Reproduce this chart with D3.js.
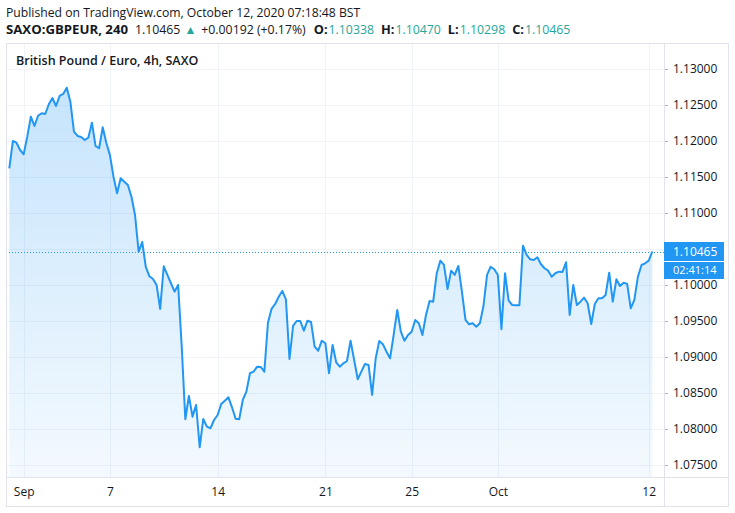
<!DOCTYPE html>
<html>
<head>
<meta charset="utf-8">
<script src="https://cdn.jsdelivr.net/npm/d3@7"></script>
<style>
  body { margin: 0; background: #fff; }
  svg { display: block; font-family: "Open Sans", "Noto Sans", sans-serif; }
</style>
</head>
<body>
<svg id="chart" width="735" height="513"></svg>
<script>
// GBPEUR 4h closes, Aug 31 late -> Oct 12 morning (one value per bar)
var closes = [
  1.11621, 1.12000, 1.11976, 1.11875, 1.11815, 1.12060, 1.12338, 1.12208, 1.12351, 1.12385,
  1.12375, 1.12510, 1.12597, 1.12486, 1.12625, 1.12653, 1.12740, 1.12546, 1.12129, 1.12070,
  1.12056, 1.12014, 1.12046, 1.12254, 1.11931, 1.11899, 1.12190, 1.11976, 1.11806, 1.11504,
  1.11274, 1.11482, 1.11435, 1.11389, 1.11226, 1.10972, 1.10463, 1.10597, 1.10250, 1.10121,
  1.10083, 1.10000, 1.09667, 1.10260, 1.10139, 1.10024, 1.09907, 1.10000, 1.09143, 1.08135,
  1.08458, 1.08171, 1.08333, 1.07746, 1.08139, 1.08032, 1.08010, 1.08125, 1.08194, 1.08347,
  1.08393, 1.08440, 1.08301, 1.08143, 1.08135, 1.08403, 1.08518, 1.08774, 1.08796, 1.08865,
  1.08861, 1.08796, 1.09476, 1.09667, 1.09736, 1.09837, 1.09917, 1.09801, 1.08972, 1.09431,
  1.09500, 1.09500, 1.09365, 1.09504, 1.09486, 1.09143, 1.09087, 1.09226, 1.09190, 1.08774,
  1.09167, 1.08926, 1.08865, 1.08912, 1.08944, 1.09226, 1.08958, 1.08690, 1.08796, 1.08903,
  1.08889, 1.08472, 1.08982, 1.09222, 1.09176, 1.09074, 1.08982, 1.09306, 1.09653, 1.09351,
  1.09226, 1.09306, 1.09351, 1.09514, 1.09468, 1.09306, 1.09583, 1.09778, 1.09768, 1.10163,
  1.10338, 1.10278, 1.09944, 1.10199, 1.10139, 1.10264, 1.09907, 1.09514, 1.09454, 1.09468,
  1.09421, 1.09468, 1.09708, 1.10139, 1.10254, 1.10218, 1.10139, 1.09385, 1.10163, 1.09782,
  1.09722, 1.09718, 1.09718, 1.10546, 1.10417, 1.10357, 1.10347, 1.10385, 1.10288, 1.10232,
  1.10199, 1.10115, 1.10163, 1.10185, 1.10181, 1.10315, 1.09583, 1.10000, 1.09722, 1.09768,
  1.09824, 1.09746, 1.09458, 1.09736, 1.09815, 1.09815, 1.09861, 1.10171, 1.09768, 1.10079,
  1.09986, 1.10032, 1.10014, 1.09676, 1.09792, 1.10115, 1.10278, 1.10301, 1.10338, 1.10465
];

// bar index of the first bar of each labelled day
var tickBars = [4, 28, 58, 88, 112, 136, 178];
var tickLabels = ["Sep", "7", "14", "21", "25", "Oct", "12"];

var priceTicks = [1.075, 1.08, 1.085, 1.09, 1.095, 1.10, 1.105, 1.11, 1.115, 1.12, 1.125, 1.13];

var lastPrice = 1.10465;
var countdown = "02:41:14";

var svg = d3.select("#chart"),
  box = { left: 6, top: 43, right: 728, bottom: 506 },
  plot = { left: 6, top: 43, right: 664, bottom: 477 };

var x = d3.scaleLinear()
  .domain([0, closes.length - 1])
  .range([9.3, 652.3]);

var y = d3.scaleLinear()
  .domain([1.07333, 1.13361])
  .range([plot.bottom, plot.top]);

var gridColor = "#f0f3fa",
  borderColor = "#e0e3eb",
  blue = "#2196f3",
  teal = "#26a69a",
  textColor = "#131722";

// header lines
svg.append("text")
  .attr("x", 6).attr("y", 16.5)
  .attr("font-size", "12.2px")
  .attr("fill", textColor)
  .text("Published on TradingView.com, October 12, 2020 07:18:48 BST");

var head = svg.append("text")
  .attr("x", 6).attr("y", 33.5)
  .attr("font-size", "12.3px")
  .attr("fill", textColor);
head.append("tspan").attr("font-weight", "bold").attr("font-size", "13.2px").text("SAXO:GBPEUR, 240");
head.append("tspan").attr("dx", 7).text("1.10465");
head.append("tspan").attr("dx", 4).attr("fill", teal).attr("font-size", "12px").text("▲");
head.append("tspan").attr("dx", 5).text("+0.00192 (+0.17%)");
[["O:", "1.10338"], ["H:", "1.10470"], ["L:", "1.10298"], ["C:", "1.10465"]].forEach(function(p, i) {
  head.append("tspan").attr("dx", i === 0 ? 8 : 7).attr("font-weight", "bold").attr("font-size", "12.8px").text(p[0]);
  head.append("tspan").attr("dx", 1).attr("fill", teal).text(p[1]);
});

// grid
var grid = svg.append("g");
grid.selectAll("line.h")
  .data(priceTicks)
  .enter().append("line")
  .attr("x1", plot.left).attr("x2", plot.right)
  .attr("y1", function(d) { return Math.round(y(d)) + 0.5; })
  .attr("y2", function(d) { return Math.round(y(d)) + 0.5; })
  .attr("stroke", gridColor);
grid.selectAll("line.v")
  .data(tickBars)
  .enter().append("line")
  .attr("y1", plot.top).attr("y2", plot.bottom)
  .attr("x1", function(d) { return Math.round(x(d)) + 0.5; })
  .attr("x2", function(d) { return Math.round(x(d)) + 0.5; })
  .attr("stroke", gridColor);

// area + line
var defs = svg.append("defs");
var grad = defs.append("linearGradient")
  .attr("id", "fillGrad")
  .attr("gradientUnits", "userSpaceOnUse")
  .attr("x1", 0).attr("x2", 0)
  .attr("y1", plot.top).attr("y2", plot.bottom);
grad.append("stop").attr("offset", "0%").attr("stop-color", blue).attr("stop-opacity", 0.28);
grad.append("stop").attr("offset", "100%").attr("stop-color", blue).attr("stop-opacity", 0.05);

var area = d3.area()
  .x(function(d, i) { return x(i); })
  .y0(plot.bottom)
  .y1(function(d) { return y(d); });

var line = d3.line()
  .x(function(d, i) { return x(i); })
  .y(function(d) { return y(d); });

svg.append("path")
  .datum(closes)
  .attr("d", area)
  .attr("fill", "url(#fillGrad)");

svg.append("path")
  .datum(closes)
  .attr("d", line)
  .attr("fill", "none")
  .attr("stroke", blue)
  .attr("stroke-width", 2)
  .attr("stroke-linejoin", "round");

// last price dotted line
svg.append("line")
  .attr("x1", plot.left).attr("x2", plot.right)
  .attr("y1", Math.round(y(lastPrice)) + 0.5)
  .attr("y2", Math.round(y(lastPrice)) + 0.5)
  .attr("stroke", blue)
  .attr("stroke-dasharray", "1,2");

// chart title
svg.append("text")
  .attr("x", 16).attr("y", 65)
  .attr("font-size", "12.5px")
  .attr("font-weight", 600)
  .attr("fill", textColor)
  .text("British Pound / Euro, 4h, SAXO");

// y axis (the 1.10500 label sits under the last-price badge, so it is left out)
var yAxis = svg.append("g")
  .attr("transform", "translate(" + plot.right + ",0)")
  .call(d3.axisRight(y)
    .tickValues(priceTicks.filter(function(d) { return d <= 1.13 && d !== 1.105; }))
    .tickFormat(d3.format(".5f"))
    .tickSize(4)
    .tickPadding(5));
yAxis.select(".domain").remove();
yAxis.selectAll(".tick line").attr("stroke", "#b2b5be");
yAxis.selectAll(".tick text")
  .attr("fill", textColor)
  .attr("font-size", "12px")
  .attr("font-family", "Open Sans, sans-serif");

// x axis
var xAxis = svg.append("g")
  .attr("transform", "translate(0," + plot.bottom + ")")
  .call(d3.axisBottom(x)
    .tickValues(tickBars)
    .tickFormat(function(d, i) { return tickLabels[i]; })
    .tickSize(0)
    .tickPadding(10));
xAxis.select(".domain").remove();
xAxis.selectAll(".tick text")
  .attr("fill", textColor)
  .attr("font-size", "12px")
  .attr("font-family", "Open Sans, sans-serif");

// frame
svg.append("rect")
  .attr("x", box.left + 0.5).attr("y", box.top + 0.5)
  .attr("width", box.right - box.left).attr("height", box.bottom - box.top)
  .attr("fill", "none").attr("stroke", borderColor);
svg.append("line")
  .attr("x1", plot.right + 0.5).attr("x2", plot.right + 0.5)
  .attr("y1", box.top).attr("y2", box.bottom)
  .attr("stroke", borderColor);
svg.append("line")
  .attr("x1", box.left).attr("x2", box.right)
  .attr("y1", plot.bottom + 0.5).attr("y2", plot.bottom + 0.5)
  .attr("stroke", borderColor);

// last price label + countdown
var ly = y(lastPrice);
svg.append("rect")
  .attr("x", plot.right).attr("y", ly - 9.5)
  .attr("width", 60).attr("height", 19)
  .attr("fill", blue);
svg.append("text")
  .attr("x", plot.right + 9).attr("y", ly + 4.5)
  .attr("font-size", "12px").attr("fill", "#fff")
  .text(d3.format(".5f")(lastPrice));
svg.append("rect")
  .attr("x", plot.right).attr("y", ly + 10.5)
  .attr("width", 60).attr("height", 17)
  .attr("fill", blue);
svg.append("text")
  .attr("x", plot.right + 9).attr("y", ly + 22.5)
  .attr("font-size", "11px").attr("fill", "#fff")
  .text(countdown);
</script>
</body>
</html>
